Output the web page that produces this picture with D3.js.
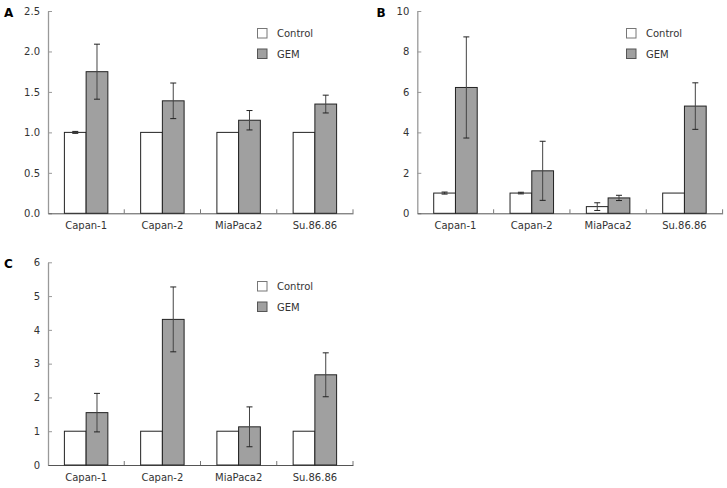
<!DOCTYPE html>
<html><head><meta charset="utf-8">
<script src="https://cdn.jsdelivr.net/npm/d3@7"></script>
<style>body{margin:0;background:#fff}svg{display:block}</style>
</head><body><svg id="c" width="727" height="488"></svg>
<script>
const categories = ["Capan-1","Capan-2","MiaPaca2","Su.86.86"];
const seriesNames = ["Control","GEM"];
// Panel A
const aControl = [1.0, 1.0, 1.0, 1.0];
const aControlErr = [0.012, 0, 0, 0];
const aGEM = [1.75, 1.39, 1.15, 1.35];
const aGEMErr = [0.34, 0.22, 0.12, 0.11];
const aTicks = [0, 0.5, 1.0, 1.5, 2.0, 2.5];
// Panel B
const bControl = [1.0, 1.0, 0.33, 1.0];
const bControlErr = [0.05, 0.04, 0.19, 0];
const bGEM = [6.22, 2.1, 0.76, 5.3];
const bGEMErr = [2.5, 1.46, 0.13, 1.15];
const bTicks = [0, 2, 4, 6, 8, 10];
// Panel C
const cControl = [1.0, 1.0, 1.0, 1.0];
const cControlErr = [0, 0, 0, 0];
const cGEM = [1.55, 4.31, 1.13, 2.67];
const cGEMErr = [0.57, 0.96, 0.59, 0.65];
const cTicks = [0, 1, 2, 3, 4, 5, 6];

const panels = [
  {label:"A", ctrl:aControl, ctrlErr:aControlErr, gem:aGEM, gemErr:aGEMErr, ticks:aTicks, fmt:d3.format(".1f"),
   x0:48, x1:353, yTop:11, yBot:213.3, lx:4, ly:17, legX:257, legY:28},
  {label:"B", ctrl:bControl, ctrlErr:bControlErr, gem:bGEM, gemErr:bGEMErr, ticks:bTicks, fmt:d3.format("d"),
   x0:417.3, x1:722.6, yTop:11, yBot:213.3, lx:376.5, ly:17, legX:626, legY:28},
  {label:"C", ctrl:cControl, ctrlErr:cControlErr, gem:cGEM, gemErr:cGEMErr, ticks:cTicks, fmt:d3.format("d"),
   x0:48, x1:353, yTop:262.3, yBot:465, lx:4, ly:268, legX:257, legY:281}
];

const svg = d3.select("#c");
const font = "'DejaVu Sans', Verdana, sans-serif";
const txt = "#333";

panels.forEach(p => {
  const g = svg.append("g");
  const x = d3.scaleBand().domain(categories).range([p.x0, p.x1]).paddingInner(0).paddingOuter(0);
  const y = d3.scaleLinear().domain([0, d3.max(p.ticks)]).range([p.yBot, p.yTop]);
  const bw = x.bandwidth() * 0.285;

  // y axis
  const ya = g.append("g").attr("transform", `translate(${p.x0},0)`)
    .call(d3.axisLeft(y).tickValues(p.ticks).tickFormat(p.fmt).tickSizeInner(-4).tickSizeOuter(0).tickPadding(8));
  ya.select(".domain").attr("stroke", "#999").attr("stroke-width", 1.3);
  ya.selectAll(".tick line").attr("stroke", "#999").attr("stroke-width", 1);
  ya.selectAll("text").attr("fill", txt).style("font-family", font).style("font-size", "10px");

  // x axis
  const xa = g.append("g").attr("transform", `translate(0,${p.yBot})`)
    .call(d3.axisBottom(x).tickSize(0).tickPadding(9));
  xa.select(".domain").attr("stroke", "#555").attr("stroke-width", 1);
  xa.selectAll("text").attr("fill", txt).style("font-family", font).style("font-size", "10px");
  // category boundary ticks (upward)
  const bounds = categories.map(c => x(c) + x.bandwidth());
  g.selectAll(".bt").data(bounds).enter().append("line")
    .attr("x1", d => d).attr("x2", d => d).attr("y1", p.yBot).attr("y2", p.yBot - 4)
    .attr("stroke", "#777").attr("stroke-width", 1);

  const cx = c => x(c) + x.bandwidth() / 2;
  // control bars
  g.selectAll(".ctrl").data(categories).enter().append("rect")
    .attr("x", c => cx(c) - bw).attr("width", bw)
    .attr("y", (c,i) => y(p.ctrl[i])).attr("height", (c,i) => p.yBot - y(p.ctrl[i]))
    .attr("fill", "#fff").attr("stroke", "#222").attr("stroke-width", 1);
  // GEM bars
  g.selectAll(".gem").data(categories).enter().append("rect")
    .attr("x", c => cx(c)).attr("width", bw)
    .attr("y", (c,i) => y(p.gem[i])).attr("height", (c,i) => p.yBot - y(p.gem[i]))
    .attr("fill", "#a0a0a0").attr("stroke", "#222").attr("stroke-width", 1);

  // error bars
  function err(vals, errs, off) {
    categories.forEach((c, i) => {
      if (!errs[i]) return;
      const xc = cx(c) + off;
      const t = y(vals[i] + errs[i]), b = y(vals[i] - errs[i]);
      g.append("line").attr("x1", xc).attr("x2", xc).attr("y1", t).attr("y2", b).attr("stroke", "#444").attr("stroke-width", 1);
      [t, b].forEach(v => g.append("line").attr("x1", xc - 3).attr("x2", xc + 3).attr("y1", v).attr("y2", v).attr("stroke", "#222").attr("stroke-width", 1));
    });
  }
  err(p.ctrl, p.ctrlErr, -bw / 2);
  err(p.gem, p.gemErr, bw / 2);

  // legend
  const lg = g.append("g").attr("transform", `translate(${p.legX},${p.legY})`);
  seriesNames.forEach((s, i) => {
    lg.append("rect").attr("x", 0.5).attr("y", i * 20.5 + 0.5).attr("width", 9.5).attr("height", 9.5)
      .attr("fill", i ? "#a0a0a0" : "#fff").attr("stroke", i ? "#555" : "#777").attr("stroke-width", 1);
    lg.append("text").attr("x", 20).attr("y", i * 20.5 + 9).text(s)
      .attr("fill", txt).style("font-family", font).style("font-size", "10px");
  });

  // panel label
  g.append("text").attr("x", p.lx).attr("y", p.ly).text(p.label)
    .attr("fill", "#000").style("font-family", font).style("font-size", "12px").style("font-weight", "bold");
});
</script></body></html>
